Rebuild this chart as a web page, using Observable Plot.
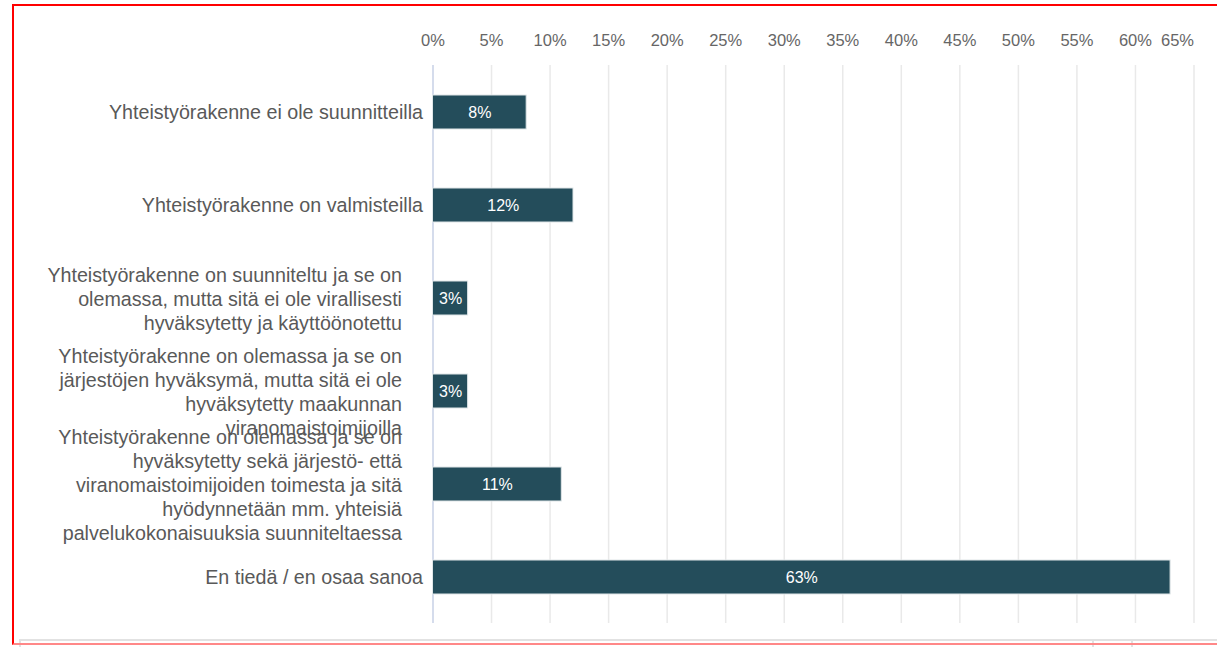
<!DOCTYPE html>
<html>
<head>
<meta charset="utf-8">
<script src="https://cdn.jsdelivr.net/npm/d3@7"></script>
<script src="https://cdn.jsdelivr.net/npm/@observablehq/plot@0.6"></script>
<style>
  html, body { margin: 0; padding: 0; background: #fff; }
  body { width: 1217px; height: 647px; position: relative; overflow: hidden; font-family: "Liberation Sans", Arial, Helvetica, sans-serif; }
  #frame { position: absolute; left: 12px; top: 4px; width: 1220px; height: 641px; border-left: 2px solid #f00; border-top: 2px solid #f00; border-bottom: 2px solid #f88; box-sizing: border-box; }
  #tablebox { position: absolute; left: 19px; top: 639px; width: 1210px; height: 20px; border: 2px solid #e2e2e2; box-sizing: border-box; }
  #tablebox .c1 { position: absolute; left: 1071px; top: 0; height: 20px; border-left: 2px solid #e2e2e2; }
  #tablebox .c2 { position: absolute; left: 1110px; top: 0; height: 20px; border-left: 2px solid #e2e2e2; }
  #chart { position: absolute; left: 0; top: 0; }
</style>
</head>
<body>
<div id="chart"></div>
<div id="tablebox"><div class="c1"></div><div class="c2"></div></div>
<div id="frame"></div>
<script>
// Categories (as displayed, with line breaks) and values (percent)
const categories = [
  "Yhteistyörakenne ei ole suunnitteilla",
  "Yhteistyörakenne on valmisteilla",
  "Yhteistyörakenne on suunniteltu ja se on\nolemassa, mutta sitä ei ole virallisesti\nhyväksytetty ja käyttöönotettu",
  "Yhteistyörakenne on olemassa ja se on\njärjestöjen hyväksymä, mutta sitä ei ole\nhyväksytetty maakunnan\nviranomaistoimijoilla",
  "Yhteistyörakenne on olemassa ja se on\nhyväksytetty sekä järjestö- että\nviranomaistoimijoiden toimesta ja sitä\nhyödynnetään mm. yhteisiä\npalvelukokonaisuuksia suunniteltaessa",
  "En tiedä / en osaa sanoa"
];
const values = [8, 12, 3, 3, 11, 63];
const tickValues = [0, 5, 10, 15, 20, 25, 30, 35, 40, 45, 50, 55, 60, 65];

const data = categories.map((c, i) => ({category: c, value: values[i]}));
const single = data.filter(d => !d.category.includes("\n"));
const multi = data.filter(d => d.category.includes("\n"));

const font = '"Liberation Sans", Arial, Helvetica, sans-serif';

const chart = Plot.plot({
  width: 1217,
  height: 640,
  marginLeft: 432.5,
  marginRight: 23.5,
  marginTop: 65,
  marginBottom: 17,
  style: {fontFamily: font, background: "transparent"},
  x: {domain: [0, 65], axis: null},
  y: {domain: categories, paddingInner: 0.635, paddingOuter: 0.3175, axis: null},
  marks: [
    Plot.gridX(tickValues, {stroke: "#e9e9e9", strokeOpacity: 1, strokeWidth: 1.5}),
    Plot.ruleX([0], {stroke: "#ccd6eb", strokeWidth: 1.5}),
    Plot.axisX(tickValues.slice(0, -1), {anchor: "top", tickSize: 0, tickPadding: 20, fontSize: 16.5, fill: "#666", label: null, tickFormat: d => d + "%"}),
    Plot.axisX(tickValues.slice(-1), {anchor: "top", tickSize: 0, tickPadding: 20, fontSize: 16.5, fill: "#666", label: null, textAnchor: "end", tickFormat: d => d + "%"}),
    Plot.barX(data, {x: "value", y: "category", fill: "#244d5b", stroke: "#dfe6e8", strokeWidth: 1}),
    Plot.text(data, {x: d => d.value / 2, y: "category", text: d => d.value + "%", fill: "#fff", fontSize: 16}),
    Plot.text(single, {x: 0, y: "category", text: "category", textAnchor: "end", dx: -10, fill: "#595959", fontSize: 19.7}),
    Plot.text(multi, {x: 0, y: "category", text: "category", textAnchor: "end", dx: -31, fill: "#595959", fontSize: 19.7, lineHeight: 1.22})
  ]
});
document.getElementById("chart").appendChild(chart);
</script>
</body>
</html>
